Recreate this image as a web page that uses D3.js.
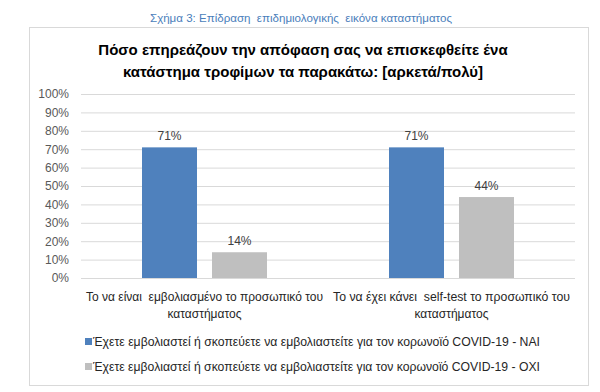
<!DOCTYPE html>
<html><head><meta charset="utf-8">
<script src="https://cdn.jsdelivr.net/npm/d3@7"></script>
<style>body{margin:0;background:#fff}svg{display:block;font-family:"Liberation Sans",Arial,sans-serif}text{white-space:pre}</style>
</head><body><svg id="c" width="600" height="392"></svg>
<script>
const subtitle = "Σχήμα 3: Επίδραση  επιδημιολογικής  εικόνα καταστήματος";
const titleLines = ["Πόσο επηρεάζουν την απόφαση σας να επισκεφθείτε ένα", "κατάστημα τροφίμων τα παρακάτω: [αρκετά/πολύ]"];
const categories = ["cat1", "cat2"];
const categoryLabels = [["Το να είναι  εμβολιασμένο το προσωπικό του", "καταστήματος"], ["Το να έχει κάνει  self-test το προσωπικό του", "καταστήματος"]];
const seriesNames = ["Έχετε εμβολιαστεί ή σκοπεύετε να εμβολιαστείτε για τον κορωνοϊό COVID-19 - NAI", "Έχετε εμβολιαστεί ή σκοπεύετε να εμβολιαστείτε για τον κορωνοϊό COVID-19 - OXI"];
const seriesKeys = ["nai", "oxi"];
const naiValues = [71, 71];
const oxiValues = [14, 44];
const yTicks = [0,10,20,30,40,50,60,70,80,90,100];
const colors = ["#4f81bd", "#bfbfbf"];

const svg = d3.select("#c");
svg.append("rect").attr("x",29.5).attr("y",27.5).attr("width",559).attr("height",358).attr("fill","#fff").attr("stroke","#d9d9d9");

svg.append("text").attr("x",301).attr("y",22).attr("text-anchor","middle").attr("font-size",11).attr("fill","#4a7ebb").attr("textLength",302).attr("lengthAdjust","spacingAndGlyphs").text(subtitle);
svg.selectAll(".tl").data(titleLines).enter().append("text").attr("x",303).attr("y",(d,i)=>55+i*22).attr("text-anchor","middle").attr("font-size",15).attr("font-weight","bold").attr("fill","#000").text(d=>d);

const x0 = d3.scaleBand().domain(categories).range([81,575]).paddingInner(0.494).paddingOuter(0.247);
const x1 = d3.scaleBand().domain(seriesKeys).range([0,x0.bandwidth()]).paddingInner(0.2143);
const y = d3.scaleLinear().domain([0,100]).range([278,94]);

const yAxis = d3.axisLeft(y).tickValues(yTicks).tickFormat(d=>d+"%").tickSize(-(575-81)).tickPadding(12);
const gy = svg.append("g").attr("transform","translate(81,0)").call(yAxis);
gy.select(".domain").remove();
gy.selectAll(".tick line").attr("stroke","#d9d9d9");
gy.selectAll(".tick text").attr("font-size",12).attr("fill","#595959").attr("font-family","Liberation Sans, Arial").attr("x",-12);

const data = categories.map((c,i)=>({cat:c, vals:[{k:"nai",v:naiValues[i]},{k:"oxi",v:oxiValues[i]}]}));
const g = svg.selectAll(".grp").data(data).enter().append("g").attr("transform",d=>`translate(${x0(d.cat)},0)`);
g.selectAll("rect").data(d=>d.vals).enter().append("rect")
  .attr("x",d=>x1(d.k)).attr("width",x1.bandwidth())
  .attr("y",d=>y(d.v)).attr("height",d=>y(0)-y(d.v))
  .attr("fill",(d,i)=>colors[i]);
g.selectAll(".lbl").data(d=>d.vals).enter().append("text")
  .attr("x",d=>x1(d.k)+x1.bandwidth()/2).attr("y",d=>y(d.v)-7)
  .attr("text-anchor","middle").attr("font-size",12).attr("fill","#404040").text(d=>d.v+"%");

categories.forEach((c,i)=>{
  const cx = x0(c)+x0.bandwidth()/2;
  categoryLabels[i].forEach((line,j)=>{
    const t = svg.append("text").attr("x",cx).attr("y",301+j*17).attr("text-anchor","middle").attr("font-size",12).attr("fill","#262626").text(line);
    if (j===0) t.attr("textLength",237).attr("lengthAdjust","spacingAndGlyphs");
  });
});

seriesNames.forEach((s,i)=>{
  svg.append("rect").attr("x",85).attr("y",338+i*25).attr("width",7).attr("height",7).attr("fill",colors[i]);
  svg.append("text").attr("x",93).attr("y",346+i*25).attr("font-size",12).attr("fill","#262626").attr("textLength",447).attr("lengthAdjust","spacingAndGlyphs").text(s);
});
</script></body></html>
